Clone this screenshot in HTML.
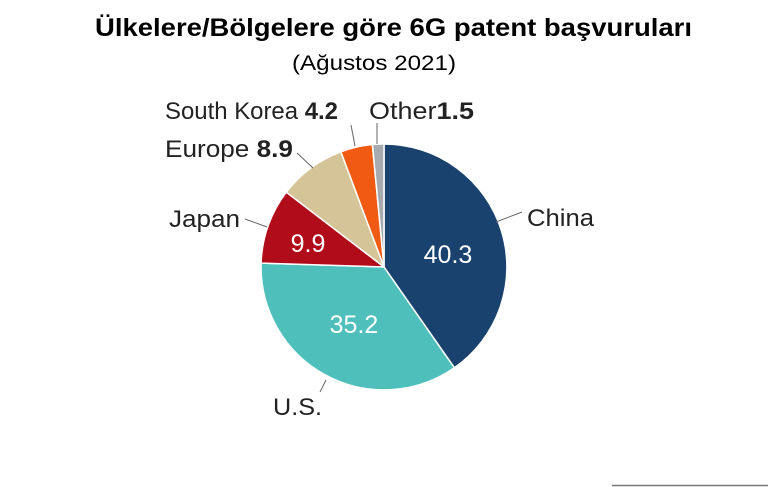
<!DOCTYPE html>
<html><head><meta charset="utf-8"><style>
body{margin:0;background:#fff;}
svg{display:block;font-family:"Liberation Sans",sans-serif;}
</style></head><body>
<svg width="769" height="487" viewBox="0 0 769 487">
<text x="95" y="36" font-size="25" font-weight="bold" fill="#000" textLength="597" lengthAdjust="spacingAndGlyphs">Ülkelere/Bölgelere göre 6G patent başvuruları</text>
<text x="292" y="70" font-size="21" fill="#000" textLength="164" lengthAdjust="spacingAndGlyphs">(Ağustos 2021)</text>
<g stroke="#fff" stroke-width="1.5" stroke-linejoin="round">
<path d="M384,267 L384,144 A123,123 0 0 1 454.4,367.8 Z" fill="#1a426f"/>
<path d="M384,267 L454.4,367.8 A123,123 0 0 1 261.1,263.1 Z" fill="#4fbfbc"/>
<path d="M384,267 L261.1,263.1 A123,123 0 0 1 286.3,192.2 Z" fill="#b00c1a"/>
<path d="M384,267 L286.3,192.2 A123,123 0 0 1 340.9,151.8 Z" fill="#d5c498"/>
<path d="M384,267 L340.9,151.8 A123,123 0 0 1 372.4,144.5 Z" fill="#f05a12"/>
<path d="M384,267 L372.4,144.5 A123,123 0 0 1 384,144 Z" fill="#a7abb0"/>
</g>
<g stroke="#666" stroke-width="1" fill="none">
<line x1="496" y1="222" x2="522" y2="212"/>
<line x1="245" y1="219" x2="267" y2="227"/>
<line x1="297" y1="153" x2="313" y2="168"/>
<line x1="351" y1="125" x2="355" y2="146"/>
<line x1="377" y1="123" x2="377" y2="144"/>
<line x1="320" y1="392" x2="326" y2="380"/>
</g>
<g font-size="24" fill="#222">
<text x="527" y="226" textLength="67" lengthAdjust="spacingAndGlyphs">China</text>
<text x="169" y="227" textLength="71" lengthAdjust="spacingAndGlyphs">Japan</text>
<text x="165" y="157" textLength="128" lengthAdjust="spacingAndGlyphs">Europe <tspan font-weight="bold">8.9</tspan></text>
<text x="165" y="119" textLength="173" lengthAdjust="spacingAndGlyphs">South Korea <tspan font-weight="bold">4.2</tspan></text>
<text x="369" y="119" textLength="105" lengthAdjust="spacingAndGlyphs">Other<tspan font-weight="bold">1.5</tspan></text>
<text x="273" y="415" textLength="49" lengthAdjust="spacingAndGlyphs">U.S.</text>
</g>
<g font-size="25" fill="#fff">
<text x="448" y="263" text-anchor="middle">40.3</text>
<text x="354" y="333" text-anchor="middle">35.2</text>
<text x="308" y="252" text-anchor="middle">9.9</text>
</g>
<line x1="612" y1="485.5" x2="768" y2="485.5" stroke="#777" stroke-width="1.5"/>
</svg>
</body></html>
